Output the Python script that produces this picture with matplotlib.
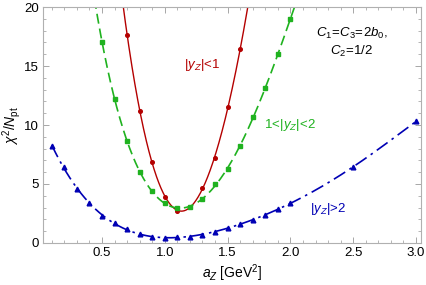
import numpy as np
import matplotlib.pyplot as plt
from matplotlib.ticker import MultipleLocator

plt.rcParams['font.family'] = ['Liberation Sans', 'DejaVu Sans']
plt.rcParams['mathtext.fontset'] = 'custom'
plt.rcParams['mathtext.rm'] = 'Liberation Sans'
plt.rcParams['mathtext.it'] = 'Liberation Sans:italic'

# |yZ| < 1
a_red = [0.7, 0.8, 0.9, 1.0, 1.1, 1.2, 1.3, 1.4, 1.5, 1.6]
chi_red = [17.65, 11.2, 6.85, 3.9, 2.75, 3.05, 4.7, 7.2, 11.5, 16.4]

# 1 < |yZ| < 2
a_green = [0.5, 0.6, 0.7, 0.8, 0.9, 1.0, 1.1, 1.2, 1.3, 1.4, 1.5, 1.6, 1.7, 1.8, 1.9, 2.0]
chi_green = [17.05, 12.2, 8.65, 6.0, 4.4, 3.35, 3.0, 3.05, 3.7, 5.0, 6.3, 8.2, 10.65, 13.1, 16.0, 19.0]

# |yZ| > 2
a_blue = [0.1, 0.2, 0.3, 0.4, 0.5, 0.6, 0.7, 0.8, 0.9, 1.0, 1.1, 1.2, 1.3, 1.4, 1.5,
          1.6, 1.7, 1.8, 1.9, 2.0, 2.5, 3.0]
chi_blue = [8.25, 6.4, 4.6, 3.35, 2.3, 1.7, 1.15, 0.75, 0.55, 0.45, 0.5, 0.55, 0.7, 0.9,
            1.3, 1.6, 1.95, 2.4, 2.9, 3.35, 6.45, 10.3]

red = '#b40000'
green = '#1fb21f'
blue = '#0000b4'

fig = plt.figure(figsize=(4.27, 2.85), dpi=100)
ax = fig.add_axes([0.1007, 0.1474, 0.8853, 0.828])


def fit_line(x, y, deg, lo, hi):
    p = np.polyfit(x, y, deg)
    xs = np.linspace(lo, hi, 400)
    return xs, np.polyval(p, xs)


xs, ys = fit_line(a_red, chi_red, 4, 0.6, 1.75)
ax.plot(xs, ys, color=red, lw=1.0)
ax.plot(a_red, chi_red, 'o', color=red, ms=2.6)

xs, ys = fit_line(a_green, chi_green, 5, 0.4, 2.1)
ax.plot(xs, ys, color=green, lw=1.2, dashes=(6, 3))
ax.plot(a_green, chi_green, 's', color=green, ms=2.7)

xs, ys = fit_line(a_blue, chi_blue, 5, 0.1, 3.0)
ax.plot(xs, ys, color=blue, lw=1.2, dashes=(8, 3, 1.5, 3))
ax.plot(a_blue, chi_blue, '^', color=blue, ms=3.4)

ax.set_xlim(0.03, 3.04)
ax.set_ylim(0, 20)
ax.xaxis.set_major_locator(MultipleLocator(0.5))
ax.xaxis.set_minor_locator(MultipleLocator(0.1))
ax.yaxis.set_major_locator(MultipleLocator(5))
ax.yaxis.set_minor_locator(MultipleLocator(1))
ax.set_xticks([0.5, 1.0, 1.5, 2.0, 2.5, 3.0])
ax.set_xticklabels(['0.5', '1.0', '1.5', '2.0', '2.5', '3.0'])
ax.tick_params(which='both', direction='in', top=True, right=True, color='#999999',
               labelsize=9.5, pad=3)
ax.tick_params(which='major', length=4, width=0.6)
ax.tick_params(which='minor', length=2, width=0.5)
for s in ax.spines.values():
    s.set_color('#b0b0b0')
    s.set_linewidth(0.8)

ax.set_xlabel(r'$a_Z\ \mathrm{[GeV^2]}$', fontsize=10, labelpad=2)
ax.set_ylabel(r'$\chi^2/N_\mathrm{pt}$', fontsize=10, labelpad=1)

ax.text(1.3, 15.1, r'$|y_Z|\!<\!1$', color=red, fontsize=9.5, ha='center', va='center')
ax.text(2.0, 10.0, r'$1\!<\!|y_Z|\!<\!2$', color=green, fontsize=9.5, ha='center', va='center')
ax.text(2.3, 2.9, r'$|y_Z|\!>\!2$', color=blue, fontsize=9.5, ha='center', va='center')
ax.text(2.49, 17.8, r'$C_1\!=\!C_3\!=\!2b_0,$', fontsize=9.5, ha='center', va='center')
ax.text(2.49, 16.2, r'$C_2\!=\!1/2$', fontsize=9.5, ha='center', va='center')

fig.savefig('out.png', dpi=100)
